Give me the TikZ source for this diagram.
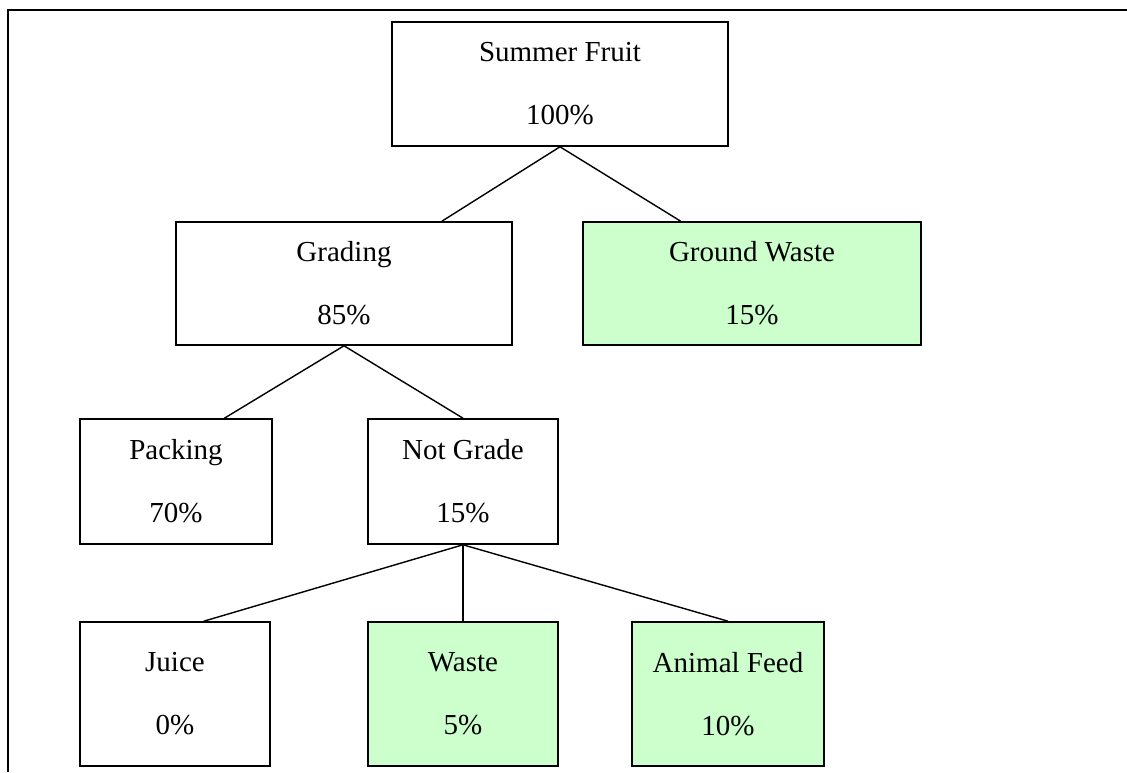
\documentclass[tikz,border=0pt]{standalone}
\usepackage{fontspec}
\setmainfont{Liberation Serif}
\usepackage{tikz}
\usepackage{xcolor}
\usetikzlibrary{calc}

\definecolor{paleGreen}{HTML}{CCFFCC}

\begin{document}
\begin{tikzpicture}[x=1cm,y=1cm,
  box/.style={draw=black,line width=0.9pt,fill=white,align=center,inner sep=0pt,
    font=\fontsize{16.5}{19.8}\selectfont},
  wastebox/.style={box,fill=paleGreen},
  link/.style={draw=black,line width=0.8pt}]
\useasboundingbox (0,0) rectangle (22.54,-15.44);
% outer frame, open at right and bottom
\draw[line width=1.4pt] (0.16,-15.44) -- (0.16,-0.2) -- (22.54,-0.2);

% level 1
\node[box,minimum width=6.72cm,minimum height=2.48cm] (fruit) at (11.2,-1.68) {Summer Fruit\\[16pt]100\%};
% level 2
\node[box,minimum width=6.72cm,minimum height=2.46cm] (grading) at (6.88,-5.67) {Grading\\[16pt]85\%};
\node[wastebox,minimum width=6.76cm,minimum height=2.46cm] (ground) at (15.04,-5.67) {Ground Waste\\[16pt]15\%};
% level 3
\node[box,minimum width=3.84cm,minimum height=2.5cm] (packing) at (3.52,-9.63) {Packing\\[16pt]70\%};
\node[box,minimum width=3.8cm,minimum height=2.5cm] (notgrade) at (9.26,-9.63) {Not Grade\\[16pt]15\%};
% level 4
\node[box,minimum width=3.8cm,minimum height=2.88cm] (juice) at (3.5,-13.88) {Juice\\[16pt]0\%};
\node[wastebox,minimum width=3.8cm,minimum height=2.88cm] (waste) at (9.26,-13.88) {Waste\\[16pt]5\%};
\node[wastebox,minimum width=3.84cm,minimum height=2.88cm] (feed) at (14.56,-13.88) {Animal Feed\\[16pt]10\%};

\draw[link] (fruit.south) -- ($(grading.north west)!0.79!(grading.north east)$);
\draw[link] (fruit.south) -- ($(ground.north west)!0.29!(ground.north east)$);
\draw[link] (grading.south) -- ($(packing.north west)!0.75!(packing.north east)$);
\draw[link] (grading.south) -- (notgrade.north);
\draw[link] (notgrade.south) -- ($(juice.north west)!0.65!(juice.north east)$);
\draw[link] (notgrade.south) -- (waste.north);
\draw[link] (notgrade.south) -- (feed.north);
\end{tikzpicture}
\end{document}
